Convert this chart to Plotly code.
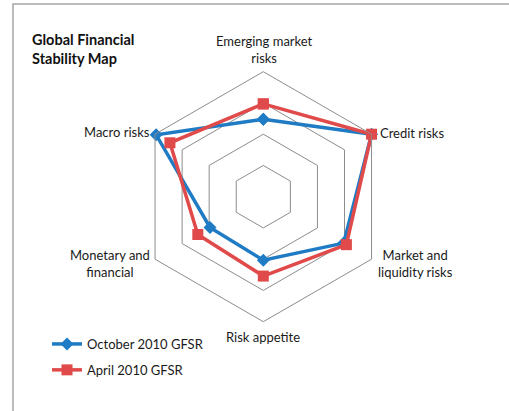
import plotly.graph_objects as go

categories = ["Emerging market<br>risks", "Credit risks", "Market and<br>liquidity risks",
              "Risk appetite", "Monetary and<br>financial", "Macro risks"]
october_2010 = [2.48, 4.0, 2.97, 2.03, 1.97, 3.96]
april_2010 = [2.97, 4.0, 3.07, 2.54, 2.42, 3.45]
series_names = ["October 2010 GFSR", "April 2010 GFSR"]

W, H = 509, 411
cx, cy, R = 263.3, 196.7, 125.0

FONT = "Lato"
TXT = "#1a1a1a"

# label placement (page pixels): x, y(center), xanchor, align
label_pos = [(264, 50, "center", "center"), (378, 133, "left", "left"),
             (415, 263, "center", "center"), (263, 337, "center", "center"),
             (110, 263, "center", "center"), (152, 132, "right", "right")]

fig = go.Figure()
fig.add_trace(go.Scatterpolar(
    r=october_2010 + october_2010[:1], theta=categories + categories[:1],
    mode="lines+markers", name=series_names[0], legendgroup="a",
    line=dict(color="#1F7BC4", width=3.5),
    marker=dict(symbol="diamond", size=10, color="#1F7BC4"),
))
fig.add_trace(go.Scatterpolar(
    r=april_2010 + april_2010[:1], theta=categories + categories[:1],
    mode="lines+markers", name=series_names[1], legendgroup="b",
    line=dict(color="#E04A4A", width=3.5),
    marker=dict(symbol="square", size=11, color="#E04A4A"),
))

annotations = [dict(text="<b>Global Financial<br>Stability Map</b>", x=30 / W, y=1 - 29 / H,
                    xref="paper", yref="paper", xanchor="left", yanchor="top",
                    showarrow=False, align="left",
                    font=dict(family=FONT, size=14.5, color="#111"))]
for lab, (px, py, xa, al) in zip(categories, label_pos):
    annotations.append(dict(text=lab, x=px / W, y=1 - py / H, xref="paper", yref="paper",
                            xanchor=xa, yanchor="middle", align=al, showarrow=False,
                            font=dict(family=FONT, size=13, color=TXT)))

fig.update_layout(
    width=W, height=H,
    margin=dict(l=0, r=0, t=0, b=0),
    paper_bgcolor="white",
    font=dict(family=FONT, size=13, color=TXT),
    polar=dict(
        domain=dict(x=[(cx - R) / W, (cx + R) / W], y=[(H - cy - R) / H, (H - cy + R) / H]),
        gridshape="linear",
        bgcolor="white",
        radialaxis=dict(range=[0, 4], dtick=1, showticklabels=False, ticks="",
                        showline=False, showgrid=True, gridcolor="#8c8c8c", gridwidth=1),
        angularaxis=dict(rotation=90, direction="clockwise", showgrid=False,
                         showline=True, linecolor="#8c8c8c", linewidth=1, ticks="",
                         showticklabels=False),
    ),
    legend=dict(x=47 / W, y=1 - 329 / H, xanchor="left", yanchor="top",
                font=dict(family=FONT, size=13, color=TXT),
                itemwidth=30, tracegroupgap=6, bgcolor="rgba(0,0,0,0)"),
    annotations=annotations,
    shapes=[dict(type="rect", xref="paper", yref="paper",
                 x0=13 / W, x1=1.05, y0=-0.05, y1=1 - 4 / H,
                 line=dict(color="#a6a6a6", width=1.5))],
)

fig.write_html("out.html", config={"displayModeBar": False},
               post_script="document.body.style.margin='0px';")
